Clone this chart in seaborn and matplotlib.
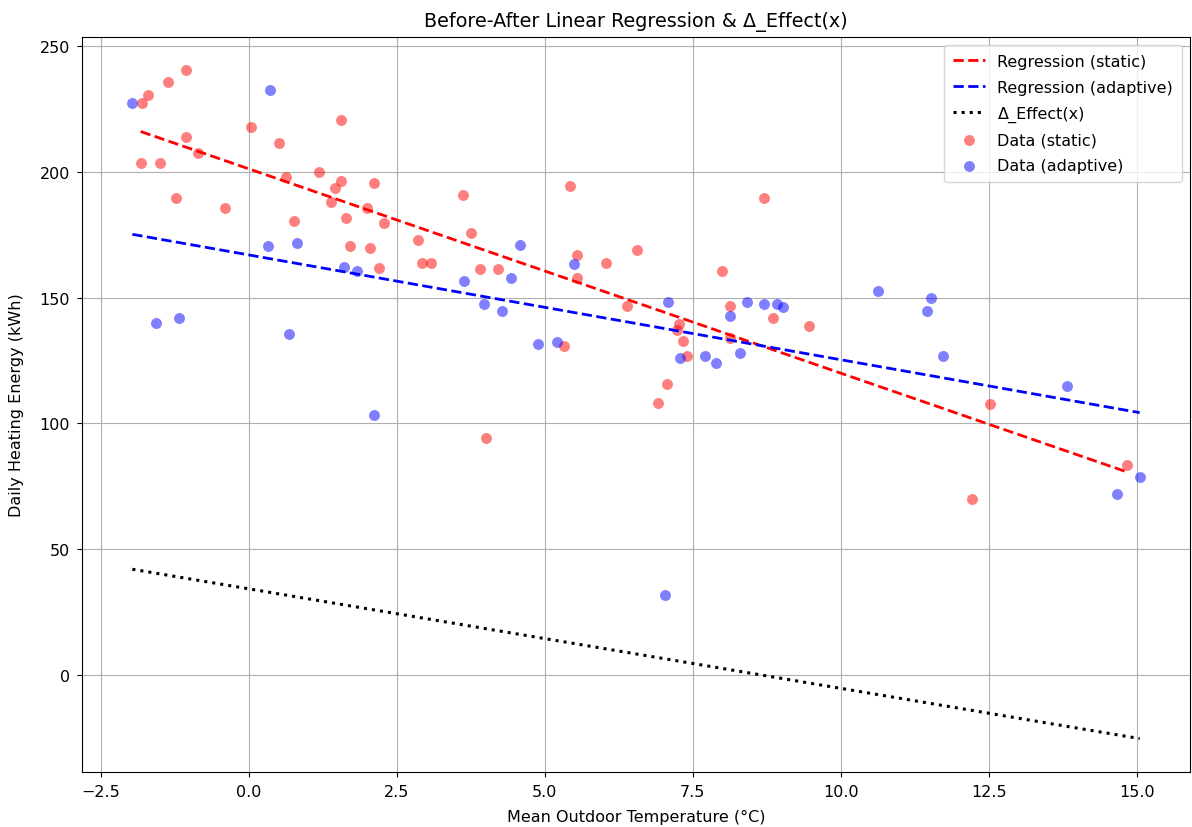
import numpy as np
import pandas as pd
import matplotlib
matplotlib.use("Agg")
import matplotlib.pyplot as plt
import seaborn as sns

# ---- data ----
static_temp = [-1.81, -1.71, -1.37, -1.07, 1.56, 0.04, 0.50, -1.07, -0.86, -1.83,
               -1.51, 0.63, 1.19, 1.55, 1.46, 2.11, 1.38, 2.00, 2.29, -1.24,
               -0.40, 1.64, 0.76, 1.71, 2.04, 2.19, 3.61, 3.76, 2.85, 2.93,
               3.07, 3.90, 4.20, 5.33, 5.43, 5.55, 5.55, 6.04, 6.55, 6.39,
               7.07, 6.92, 4.00, 8.71, 8.00, 8.13, 8.85, 9.46, 7.27, 7.24,
               7.34, 7.40, 8.12, 12.52, 14.83, 12.22]
static_energy = [227.4, 230.7, 235.6, 240.3, 220.5, 217.7, 211.4, 213.9, 207.5, 203.6,
                 203.6, 197.9, 199.8, 196.3, 193.4, 195.5, 187.8, 185.7, 179.5, 189.6,
                 185.7, 181.7, 180.4, 170.6, 169.8, 161.7, 190.6, 175.5, 172.7, 163.6,
                 163.6, 161.5, 161.5, 130.6, 194.3, 167.0, 157.8, 163.6, 168.8, 146.5,
                 115.6, 107.9, 94.0, 189.7, 160.6, 146.5, 141.7, 138.8, 139.6, 137.3,
                 132.6, 126.7, 133.9, 107.8, 83.6, 70.1]

adaptive_temp = [-1.97, 0.35, 0.32, 0.82, 1.61, 1.83, -1.57, -1.18, 0.67, 2.12,
                 4.58, 3.64, 4.43, 3.98, 4.27, 4.88, 5.21, 5.49, 7.08, 8.13,
                 8.42, 8.71, 8.92, 9.03, 10.63, 11.53, 11.46, 7.29, 7.71, 7.90,
                 8.29, 11.73, 13.82, 15.05, 14.66, 7.03]
adaptive_energy = [227.4, 232.7, 170.6, 171.7, 162.0, 160.7, 139.8, 141.7, 135.4, 103.4,
                   170.9, 156.6, 157.8, 147.3, 144.7, 131.5, 132.5, 163.5, 148.4, 142.5,
                   148.4, 147.5, 147.5, 146.4, 152.8, 150.0, 144.7, 125.9, 126.7, 123.8,
                   127.8, 126.7, 114.7, 78.8, 71.9, 31.9]

title = "Before-After Linear Regression & Δ_Effect(x)"
xlabel = "Mean Outdoor Temperature (°C)"
ylabel = "Daily Heating Energy (kWh)"

# ---- fits ----
xs = np.array(static_temp); ys = np.array(static_energy)
xa = np.array(adaptive_temp); ya = np.array(adaptive_energy)
ps = np.polyfit(xs, ys, 1)
pa = np.polyfit(xa, ya, 1)
grid_s = np.linspace(xs.min(), xs.max(), 100)
grid_a = np.linspace(xa.min(), xa.max(), 100)
x_all = np.concatenate([xs, xa])
grid_d = np.linspace(x_all.min(), x_all.max(), 100)
delta = np.polyval(ps, grid_d) - np.polyval(pa, grid_d)

fig = plt.figure(figsize=(11.92, 8.28), dpi=100)
ax = fig.add_axes([82/1192, 1-773/828, (1190-82)/1192, (773-38)/828])

FS = 11.5
sns.lineplot(x=grid_s, y=np.polyval(ps, grid_s), ax=ax, color="red", linestyle="--", lw=2,
             label="Regression (static)")
sns.lineplot(x=grid_a, y=np.polyval(pa, grid_a), ax=ax, color="blue", linestyle="--", lw=2,
             label="Regression (adaptive)")
sns.lineplot(x=grid_d, y=delta, ax=ax, color="black", linestyle=":", lw=2.2,
             label="Δ_Effect(x)")
sns.scatterplot(x=xs, y=ys, ax=ax, color="red", alpha=0.5, s=62, linewidth=0,
                label="Data (static)", zorder=1)
sns.scatterplot(x=xa, y=ya, ax=ax, color="blue", alpha=0.5, s=62, linewidth=0,
                label="Data (adaptive)", zorder=1)

ax.grid(True, color="#b0b0b0", lw=0.8)
ax.set_axisbelow(True)
ax.set_title(title, fontsize=FS * 1.2, pad=8)
ax.set_xlabel(xlabel, fontsize=FS, labelpad=7)
ax.set_ylabel(ylabel, fontsize=FS, labelpad=11)
ax.tick_params(labelsize=FS, pad=5)
ax.legend(loc="upper right", fontsize=FS, labelspacing=0.68, borderpad=0.55)

fig.savefig("out.png", dpi=100)
